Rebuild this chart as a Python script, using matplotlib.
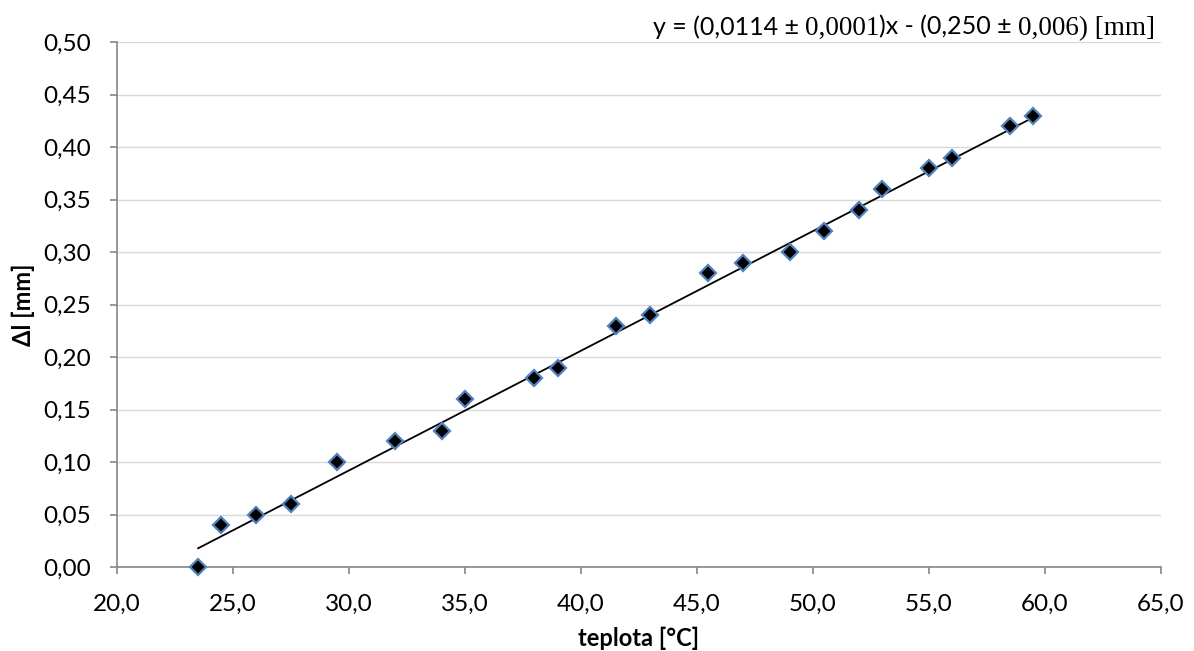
import numpy as np
import matplotlib
matplotlib.use("Agg")
import matplotlib.pyplot as plt
from matplotlib.ticker import FuncFormatter
from matplotlib.offsetbox import TextArea, HPacker, AnchoredOffsetbox

# namerane hodnoty
teplota = [23.5, 24.5, 26.0, 27.5, 29.5, 32.0, 34.0, 35.0, 38.0, 39.0, 41.5,
           43.0, 45.5, 47.0, 49.0, 50.5, 52.0, 53.0, 55.0, 56.0, 58.5, 59.5]
dl = [0.00, 0.04, 0.05, 0.06, 0.10, 0.12, 0.13, 0.16, 0.18, 0.19, 0.23,
      0.24, 0.28, 0.29, 0.30, 0.32, 0.34, 0.36, 0.38, 0.39, 0.42, 0.43]

# linearna regresia (z popisu grafu)
k = 0.0114
q = -0.250

plt.rcParams['font.family'] = ['Lato', 'DejaVu Sans']
sans = 'Lato'
serif = 'Liberation Serif'
gray = '#868686'

fig = plt.figure(figsize=(11.94, 6.51), dpi=100)
ax = fig.add_axes([0.098, 0.129, 0.874, 0.806])

t_fit = np.array([min(teplota), max(teplota)])
ax.plot(t_fit, k * t_fit + q, color='black', lw=1.3, zorder=2)
ax.plot(teplota, dl, ls='none', marker='D', markersize=8.5,
        markerfacecolor='black', markeredgecolor='#4F81BD',
        markeredgewidth=1.6, zorder=3, clip_on=False)

ax.set_xlim(20, 65)
ax.set_ylim(0, 0.5)
ax.set_xticks(np.arange(20, 65.1, 5))
ax.set_yticks(np.arange(0, 0.501, 0.05))
ax.xaxis.set_major_formatter(FuncFormatter(lambda v, p: f"{v:.1f}".replace('.', ',')))
ax.yaxis.set_major_formatter(FuncFormatter(lambda v, p: f"{v:.2f}".replace('.', ',')))

ax.grid(axis='y', color='#D9D9D9', lw=1)
ax.set_axisbelow(True)
for s in ['top', 'right']:
    ax.spines[s].set_visible(False)
for s in ['left', 'bottom']:
    ax.spines[s].set_color(gray)
    ax.spines[s].set_linewidth(1.2)
ax.tick_params(colors=gray, labelcolor='black', labelsize=17.5, length=5, width=1.2)
ax.tick_params(axis='x', pad=14)
ax.tick_params(axis='y', pad=14)

ax.set_xlabel('teplota [°C]', fontsize=17, fontweight='bold', labelpad=9)
ax.set_ylabel('Δl [mm]', fontsize=17, fontweight='bold', labelpad=6)

# rovnica regresie - zmiesane pisma
parts = [("y = (0,0114 ± ", sans, 18), ("0,0001", serif, 19.5), (")x - (0,250 ± ", sans, 18),
         ("0,006", serif, 19.5), (") [mm]", serif, 19.5)]
areas = [TextArea(s, textprops=dict(family=f, size=sz, color='black')) for s, f, sz in parts]
box = HPacker(children=areas, align='baseline', pad=0, sep=0)
anch = AnchoredOffsetbox(loc='lower right', child=box, pad=0, frameon=False,
                         bbox_to_anchor=(0.995, 1.003), bbox_transform=ax.transAxes,
                         borderpad=0)
ax.add_artist(anch)

fig.savefig('out.png', dpi=100)
